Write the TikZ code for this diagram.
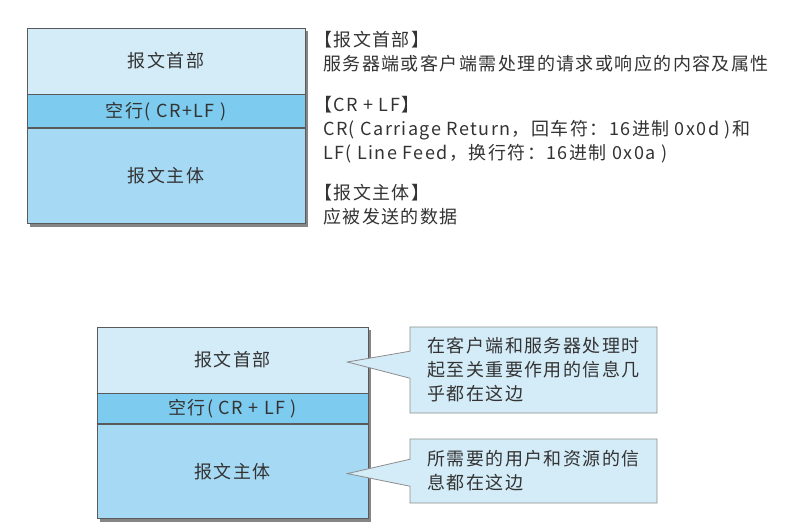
\documentclass[tikz,border=0pt]{standalone}
\usepackage{fontspec}
\setmainfont[LetterSpace=8]{Noto Sans CJK SC}
\usepackage{xcolor}
\usetikzlibrary{positioning,calc,backgrounds,shapes.callouts}
\definecolor{hdrblue}{HTML}{D4ECF8}
\definecolor{blankblue}{HTML}{7DCBEE}
\definecolor{bodyblue}{HTML}{A6D9F3}
\definecolor{edgegray}{HTML}{5A5A5A}
\definecolor{shadegray}{HTML}{858585}
\definecolor{callgray}{HTML}{8C8C8C}
\definecolor{inkgray}{HTML}{333333}

\begin{document}
\begin{tikzpicture}[x=1pt,y=-1pt,
  txt/.style={text=inkgray,font=\fontsize{18pt}{24pt}\selectfont,inner sep=0pt},
  band/.style={txt,rectangle,draw=edgegray,line width=0.8pt},
  hdr/.style={band,fill=hdrblue,minimum height=66pt},
  blank/.style={band,fill=blankblue},
  body/.style={band,fill=bodyblue},
  note/.style={txt,align=left,anchor=west},
  bubble/.style={txt,rectangle callout,draw=callgray,line width=0.8pt,fill=hdrblue,
    callout pointer width=27pt,minimum width=247pt,align=left}]
\useasboundingbox (0,0) rectangle (795,532);

\node [hdr,minimum width=278pt] (hdrA) at (166,61) {报文首部};
\node [blank,minimum width=278pt,minimum height=33pt,below=0pt of hdrA] (blankA) {空行( CR+LF )};
\node [body,minimum width=278pt,minimum height=95pt,below=0pt of blankA] (bodyA) {报文主体};

\node [note] (noteHdr) at (323,51.5) {\hspace{-0.5em}【报文首部】\\服务器端或客户端需处理的请求或响应的内容及属性};
\node [note] (noteCrlf) at (323,130) {\hspace{-0.5em}【CR + LF】\\CR( Carriage Return，回车符：16进制 0x0d )和\\LF( Line Feed，换行符：16进制 0x0a )};
\node [note] (noteBody) at (323,205) {\hspace{-0.5em}【报文主体】\\应被发送的数据};

\node [hdr,minimum width=271pt] (hdrB) at (232.5,360) {报文首部};
\node [blank,minimum width=271pt,minimum height=30pt,below=0pt of hdrB] (blankB) {空行( CR + LF )};
\node [body,minimum width=271pt,minimum height=94pt,below=0pt of blankB] (bodyB) {报文主体};

\node [bubble,minimum height=86pt,callout absolute pointer={($(hdrB.east)+(-21,2)$)}] (tipHdr) at (533.5,370)
  {在客户端和服务器处理时\\起至关重要作用的信息几\\乎都在这边};
\node [bubble,minimum height=64pt,callout absolute pointer={($(bodyB.east)+(-21,2)$)}] (tipBody) at (533.5,471)
  {所需要的用户和资源的信\\息都在这边};

\begin{scope}[on background layer]
\fill[white] (0,0) rectangle (795,532);
\fill[shadegray] ($(hdrA.north west)+(3,3)$) rectangle ($(bodyA.south east)+(3,3)$);
\fill[shadegray] ($(hdrB.north west)+(3,3)$) rectangle ($(bodyB.south east)+(3,3)$);
\end{scope}
\end{tikzpicture}
\end{document}
